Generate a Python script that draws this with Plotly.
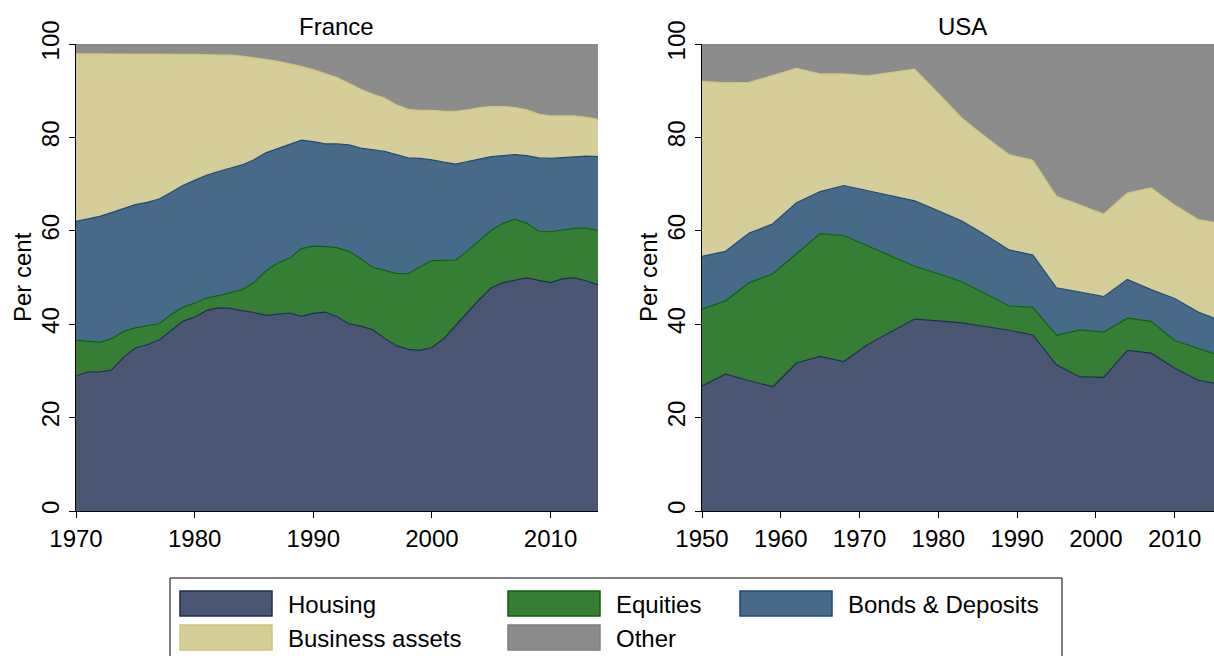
import plotly.graph_objects as go
from plotly.subplots import make_subplots

# ---------------- data (shares of wealth, per cent) ----------------
fr_years = list(range(1970, 2015))
fr_housing = [28.9, 29.8, 29.8, 30.2, 32.9, 34.9, 35.6, 36.6, 38.6, 40.6,
              41.5, 42.9, 43.5, 43.4, 42.9, 42.5, 41.9, 42.1, 42.4, 41.7,
              42.3, 42.6, 41.6, 40.1, 39.6, 38.8, 37.0, 35.4, 34.6, 34.4,
              35.0, 36.9, 39.8, 42.5, 45.3, 47.8, 48.9, 49.4, 49.9, 49.4,
              48.9, 49.7, 49.9, 49.3, 48.4]
fr_equities = [7.7, 6.5, 6.3, 6.7, 5.5, 4.3, 4.1, 3.5, 3.4, 3.0,
               3.0, 2.7, 2.6, 3.3, 4.5, 6.4, 9.5, 11.0, 11.7, 14.5,
               14.4, 14.0, 14.8, 15.5, 14.4, 13.4, 14.5, 15.5, 16.2, 17.9,
               18.6, 16.7, 13.9, 13.2, 12.5, 12.3, 12.7, 13.1, 11.7, 10.5,
               10.9, 10.5, 10.6, 11.3, 11.7]
fr_bonds = [25.4, 26.3, 27.0, 27.0, 26.4, 26.4, 26.4, 26.7, 26.2, 26.1,
            26.3, 26.3, 26.6, 26.7, 26.7, 26.3, 25.3, 24.5, 24.4, 23.2,
            22.4, 22.0, 22.2, 22.8, 23.7, 25.1, 25.5, 25.4, 24.8, 23.2,
            21.6, 21.1, 20.6, 19.1, 17.6, 15.8, 14.5, 13.8, 14.5, 15.7,
            15.7, 15.5, 15.4, 15.4, 15.8]
fr_business = [35.9, 35.3, 34.8, 34.0, 33.1, 32.2, 31.7, 31.0, 29.6, 28.1,
               27.0, 25.8, 25.0, 24.2, 23.3, 21.9, 20.0, 18.7, 17.3, 15.8,
               15.4, 15.1, 14.2, 13.2, 12.6, 12.0, 11.4, 10.7, 10.4, 10.3,
               10.6, 10.9, 11.3, 11.1, 11.0, 10.7, 10.5, 10.1, 9.8, 9.4,
               9.1, 8.9, 8.7, 8.3, 8.0]
fr_other = [2.1, 2.1, 2.1, 2.1, 2.1, 2.2, 2.2, 2.2, 2.2, 2.2,
            2.2, 2.3, 2.3, 2.4, 2.6, 2.9, 3.3, 3.7, 4.2, 4.8,
            5.5, 6.3, 7.2, 8.4, 9.7, 10.7, 11.6, 13.0, 14.0, 14.2,
            14.2, 14.4, 14.4, 14.1, 13.6, 13.4, 13.4, 13.6, 14.1, 15.0,
            15.4, 15.4, 15.4, 15.7, 16.1]

us_years = [1950, 1953, 1956, 1959, 1962, 1965, 1968, 1971, 1974, 1977, 1980,
            1983, 1986, 1989, 1992, 1995, 1998, 2001, 2004, 2007, 2010, 2013, 2015]
us_housing = [26.8, 29.3, 27.9, 26.6, 31.7, 33.1, 32.0, 35.6, 38.4, 41.1, 40.7,
              40.3, 39.5, 38.7, 37.7, 31.3, 28.7, 28.6, 34.4, 33.8, 30.6, 28.0, 27.4]
us_equities = [16.4, 15.7, 21.0, 24.2, 23.4, 26.3, 27.0, 21.2, 16.1, 11.3, 10.1,
               8.8, 7.0, 5.2, 5.9, 6.3, 10.1, 9.7, 6.9, 6.8, 5.9, 6.9, 6.3]
us_bonds = [11.3, 10.6, 10.6, 10.7, 10.9, 9.0, 10.7, 11.8, 13.0, 14.0, 13.5,
            13.0, 12.6, 12.0, 11.2, 10.2, 8.1, 7.6, 8.3, 6.8, 9.0, 7.7, 7.6]
us_business = [37.5, 36.1, 32.3, 31.8, 28.8, 25.2, 23.9, 24.6, 26.4, 28.2, 25.1,
               22.0, 21.0, 20.4, 20.3, 19.6, 18.6, 17.7, 18.5, 21.8, 20.0, 19.8, 20.5]
us_other = [8.0, 8.3, 8.2, 6.6, 5.2, 6.4, 6.4, 6.8, 6.1, 5.4, 10.6,
            15.9, 19.9, 23.7, 24.9, 32.6, 34.5, 36.4, 31.9, 30.8, 34.5, 37.6, 38.2]

categories = ["Housing", "Equities", "Bonds & Deposits", "Business assets", "Other"]
panel_titles = ["France", "USA"]
y_ticks = [0, 20, 40, 60, 80, 100]
fr_x_ticks = [1970, 1980, 1990, 2000, 2010]
us_x_ticks = [1950, 1960, 1970, 1980, 1990, 2000, 2010]

# ---------------- styles ----------------
fills = ["#4b5674", "#357e34", "#476a8b", "#d5ce98", "#8c8c8c"]
lines = ["#1d2b52", "#0b600b", "#1d4b78", "#cdc57c", "#7e7e7e"]
FONT = "Liberation Sans, Arial, Helvetica, sans-serif"
FS = 24
W, H = 1214, 656


def px(x):
    return x / W


def py(y):
    return 1 - y / H


fig = make_subplots(rows=1, cols=2)

fr_series = [fr_housing, fr_equities, fr_bonds, fr_business, fr_other]
us_series = [us_housing, us_equities, us_bonds, us_business, us_other]

for col, (yrs, series, grp) in enumerate([(fr_years, fr_series, "fr"),
                                          (us_years, us_series, "us")], start=1):
    for name, vals, fc, lc in zip(categories, series, fills, lines):
        fig.add_trace(go.Scatter(
            x=yrs, y=vals, name=name, stackgroup=grp, mode="lines",
            line=dict(color=lc, width=1.2), fillcolor=fc,
            showlegend=False, hoverinfo="x+y+name"), row=1, col=col)

plot_top, plot_bot = 44, 511
axis_common = dict(showgrid=False, zeroline=False, showline=True, linecolor="black",
                   linewidth=1, ticks="outside", ticklen=6, tickcolor="black",
                   tickfont=dict(family=FONT, size=FS, color="black"), automargin=False)

fig.update_layout(
    width=W, height=H,
    margin=dict(l=0, r=0, t=0, b=0),
    paper_bgcolor="white", plot_bgcolor="white",
    font=dict(family=FONT, color="black"),
    xaxis=dict(domain=[px(76), px(598)], range=[1970, 2014], tickvals=fr_x_ticks, **axis_common),
    xaxis2=dict(domain=[px(702), px(1214)], range=[1950, 2015], tickvals=us_x_ticks, **axis_common),
    yaxis=dict(domain=[py(plot_bot), py(plot_top)], range=[0, 100], tickvals=y_ticks,
               tickangle=-90, **axis_common),
    yaxis2=dict(domain=[py(plot_bot), py(plot_top)], range=[0, 100], tickvals=y_ticks,
                tickangle=-90, **axis_common),
)

annotations = []
shapes = []
# panel titles
for title, xc in zip(panel_titles, [337, 962]):
    annotations.append(dict(text=title, x=px(xc), y=py(27), xref="paper", yref="paper",
                            showarrow=False, font=dict(family=FONT, size=FS, color="black"),
                            xanchor="center", yanchor="middle"))
# y-axis titles
for xc in [22, 648]:
    annotations.append(dict(text="Per cent", x=px(xc), y=py(277), xref="paper", yref="paper",
                            showarrow=False, textangle=-90,
                            font=dict(family=FONT, size=FS, color="black"),
                            xanchor="center", yanchor="middle"))

# legend box
shapes.append(dict(type="rect", xref="paper", yref="paper",
                   x0=px(170), x1=px(1062), y0=py(662), y1=py(578),
                   line=dict(color="black", width=1), fillcolor="white", layer="above"))
legend_pos = [(180, 591), (508, 591), (740, 591), (180, 625), (508, 625)]
for name, (lx, ly), fc, lc in zip(categories, legend_pos, fills, lines):
    shapes.append(dict(type="rect", xref="paper", yref="paper",
                       x0=px(lx), x1=px(lx + 92), y0=py(ly + 25), y1=py(ly),
                       line=dict(color=lc, width=1.5), fillcolor=fc, layer="above"))
    annotations.append(dict(text=name, x=px(lx + 106), y=py(ly + 13), xref="paper", yref="paper",
                            showarrow=False, font=dict(family=FONT, size=FS, color="black"),
                            xanchor="left", yanchor="middle"))

fig.update_layout(annotations=annotations, shapes=shapes)

fig.write_html("out.html", config={"displayModeBar": False},
               post_script="document.body.style.margin='0';document.body.style.overflow='hidden';")
